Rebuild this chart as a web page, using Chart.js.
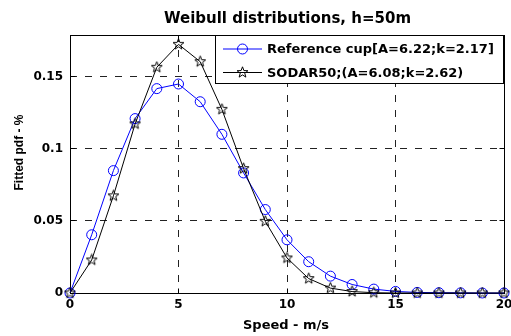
<!DOCTYPE html>
<html><head><meta charset="utf-8">
<script src="https://cdn.jsdelivr.net/npm/chart.js@4.4.1/dist/chart.umd.min.js"></script>
<style>html,body{margin:0;padding:0;background:#fff}#wrap{width:511px;height:336px}</style>
</head><body><div id="wrap"><canvas id="c" width="511" height="336"></canvas></div>
<script>
const titleText = 'Weibull distributions, h=50m';
const xLabel = 'Speed - m/s';
const yLabel = 'Fitted pdf - %';
const seriesNames = ['Reference cup[A=6.22;k=2.17]', 'SODAR50;(A=6.08;k=2.62)'];
const speeds = [0,1,2,3,4,5,6,7,8,9,10,11,12,13,14,15,16,17,18,19,20];
const refCup = [0,0.0404,0.0849,0.1210,0.1418,0.1450,0.1327,0.1101,0.0833,0.0579,0.0369,0.0217,0.0117,0.0059,0.0027,0.0011,0.0004,0.0002,0.0001,0,0];
const sodar50 = [0,0.0229,0.0674,0.1173,0.1566,0.1725,0.1605,0.1274,0.0863,0.0497,0.0243,0.0100,0.0034,0.0010,0.0002,0,0,0,0,0,0];
const xTicks = [0,5,10,15,20];
const yTicks = [0,0.05,0.1,0.15];
const xRange = [0,20];
const yRange = [0,0.179];

const BLUE = '#0000ff';
function makeStar(size){
  const c = document.createElement('canvas'); c.width = c.height = size;
  const g = c.getContext('2d'); const cx = size/2, cy = size/2;
  const R = size/2 - 0.8, r = R*0.42;
  g.beginPath();
  for (let i=0;i<10;i++){ const a=-Math.PI/2+i*Math.PI/5; const rad=i%2?r:R; g.lineTo(cx+rad*Math.cos(a), cy+rad*Math.sin(a)); }
  g.closePath(); g.strokeStyle='#000'; g.lineWidth=1; g.stroke();
  return c;
}
const starImg = makeStar(13);

function align(chart, p){ return Math.round(p-0.5)+0.5; }

const deco = {
  id:'deco',
  beforeDatasetsDraw(chart){
    const {ctx, chartArea:a, scales} = chart;
    ctx.save();
    ctx.strokeStyle='#000'; ctx.lineWidth=1;
    const L=align(chart,a.left), R=align(chart,a.right), T=align(chart,a.top), B=align(chart,a.bottom);
    ctx.beginPath();
    xTicks.forEach(v=>{ const x=align(chart,scales.x.getPixelForValue(v)); ctx.moveTo(x,B); ctx.lineTo(x,B-5); ctx.moveTo(x,T); ctx.lineTo(x,T+5); });
    yTicks.forEach(v=>{ const y=align(chart,scales.y.getPixelForValue(v)); ctx.moveTo(L,y); ctx.lineTo(L+5,y); ctx.moveTo(R,y); ctx.lineTo(R-5,y); });
    ctx.stroke();
    ctx.strokeRect(L,T,R-L,B-T);
    ctx.restore();
  },
  afterDatasetsDraw(chart){
    const {ctx, chartArea:a} = chart;
    ctx.save();
    const L=215.5, T=align(chart,a.top), R=align(chart,a.right)-1, B=83.5;
    ctx.fillStyle='#fff'; ctx.fillRect(L,T,R-L,B-T);
    ctx.strokeStyle='#000'; ctx.lineWidth=1; ctx.strokeRect(L,T,R-L,B-T);
    const rows=[49,72.5];
    ctx.font='bold 13px "DejaVu Sans"'; ctx.textBaseline='middle'; ctx.textAlign='left';
    rows.forEach((y,i)=>{
      ctx.beginPath(); ctx.moveTo(223,y); ctx.lineTo(262,y);
      ctx.strokeStyle = i===0?BLUE:'#000'; ctx.lineWidth=1; ctx.stroke();
      if(i===0){ ctx.beginPath(); ctx.arc(242.5,y,5,0,Math.PI*2); ctx.stroke(); }
      else { ctx.drawImage(starImg, 242.5-6.5, y-6.5); }
      ctx.fillStyle='#000'; ctx.fillText(seriesNames[i], 267, y+1);
    });
    ctx.restore();
  },
  afterDraw(chart){
    const {ctx} = chart;
    ctx.save(); ctx.fillStyle='#000';
    ctx.font='bold 15px "DejaVu Sans"'; ctx.textAlign='center'; ctx.textBaseline='alphabetic';
    ctx.fillText(titleText, 287.5, 23);
    ctx.font='bold 13px "DejaVu Sans"';
    ctx.fillText(xLabel, 286, 329);
    ctx.translate(23, 152.5); ctx.rotate(-Math.PI/2);
    ctx.font='bold 12px "Liberation Sans"'; ctx.textBaseline='alphabetic';
    ctx.fillText(yLabel, 0, 0);
    ctx.restore();
  }
};

const tickFont = {family:'"DejaVu Sans"', size:12, weight:'bold'};
new Chart(document.getElementById('c'), {
  type:'line',
  data:{ datasets:[
    { label:seriesNames[0], data:speeds.map((s,i)=>({x:s,y:refCup[i]})), borderColor:BLUE, borderWidth:1, backgroundColor:'transparent',
      pointStyle:'circle', pointRadius:5, pointBorderColor:BLUE, pointBorderWidth:1, pointBackgroundColor:'transparent', order:1, clip:false, tension:0 },
    { label:seriesNames[1], data:speeds.map((s,i)=>({x:s,y:sodar50[i]})), borderColor:'#000', borderWidth:1, backgroundColor:'transparent',
      pointStyle:starImg, pointRadius:6, order:0, clip:false, tension:0 }
  ]},
  options:{
    responsive:false, animation:false, devicePixelRatio:1,
    layout:{padding:{top:35,right:6,left:0,bottom:0}},
    plugins:{legend:{display:false}, title:{display:false}, tooltip:{enabled:false}},
    scales:{
      x:{ type:'linear', min:xRange[0], max:xRange[1],
        afterBuildTicks:s=>{ s.ticks = xTicks.map(v=>({value:v})); },
        afterFit:s=>{ s.height=43; s.paddingLeft=0; s.paddingRight=0; },
        grid:{color:'#222', lineWidth:1, drawTicks:false},
        border:{display:false, dash:[7,8]},
        ticks:{color:'#000', font:tickFont, padding:5, maxRotation:0, autoSkip:false, callback:v=>String(v)} },
      y:{ type:'linear', min:yRange[0], max:yRange[1],
        afterBuildTicks:s=>{ s.ticks = yTicks.map(v=>({value:v})); },
        afterFit:s=>{ s.width=70; s.paddingTop=0; s.paddingBottom=0; },
        grid:{color:'#222', lineWidth:1, drawTicks:false},
        border:{display:false, dash:[7,8]},
        ticks:{color:'#000', font:tickFont, padding:7, autoSkip:false, callback:v=>String(v)} }
    }
  },
  plugins:[deco]
});
</script></body></html>
